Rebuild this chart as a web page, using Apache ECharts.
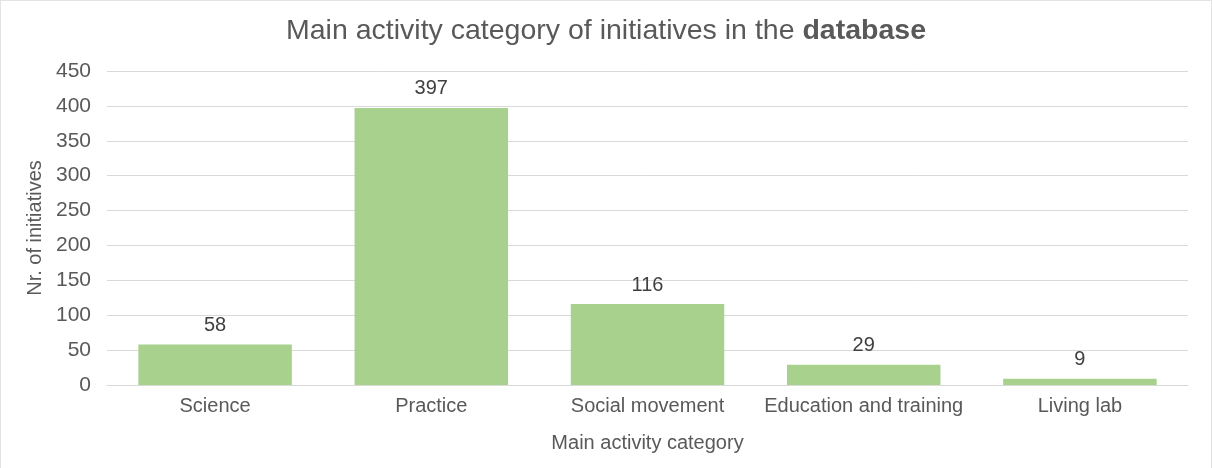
<!DOCTYPE html>
<html>
<head>
<meta charset="utf-8">
<script src="https://cdn.jsdelivr.net/npm/echarts@6/dist/echarts.min.js"></script>
<style>
html,body{margin:0;padding:0;background:#fff;}
#c{width:1212px;height:468px;box-sizing:border-box;border:1px solid #e3e3e3;border-bottom:none;}
</style>
</head>
<body>
<div id="c"></div>
<script>
const categories = ["Science", "Practice", "Social movement", "Education and training", "Living lab"];
const values = [58, 397, 116, 29, 9];
const yTicks = [0, 50, 100, 150, 200, 250, 300, 350, 400, 450];

const chart = echarts.init(document.getElementById('c'), null, {renderer: 'canvas'});
const font = '"Liberation Sans", Arial, Helvetica, sans-serif';
chart.setOption({
  animation: false,
  textStyle: {fontFamily: font},
  title: {
    text: '{n|Main activity category of initiatives in the }{b|database}',
    left: 'center',
    top: 11,
    textStyle: {
      fontWeight: 'normal',
      rich: {
        n: {fontSize: 28.5, color: '#595959', fontWeight: 'normal', fontFamily: font},
        b: {fontSize: 28.5, color: '#595959', fontWeight: 'bold', fontFamily: font}
      }
    }
  },
  grid: {left: 106, right: 23, top: 70, bottom: 83},
  xAxis: {
    type: 'category',
    data: categories,
    axisLine: {lineStyle: {color: '#d9d9d9', width: 1}},
    axisTick: {show: false},
    axisLabel: {color: '#595959', fontSize: 20, margin: 11, interval: 0, fontFamily: font},
    name: 'Main activity category',
    nameLocation: 'middle',
    nameGap: 48,
    nameTextStyle: {color: '#595959', fontSize: 20, fontFamily: font}
  },
  yAxis: {
    type: 'value',
    min: yTicks[0],
    max: yTicks[yTicks.length - 1],
    interval: 50,
    axisLine: {show: false},
    axisTick: {show: false},
    splitLine: {lineStyle: {color: '#d9d9d9', width: 1}},
    axisLabel: {color: '#595959', fontSize: 21, margin: 16, fontFamily: font},
    name: 'Nr. of initiatives',
    nameLocation: 'middle',
    nameGap: 59,
    nameRotate: 90,
    nameTextStyle: {color: '#595959', fontSize: 20, fontFamily: font}
  },
  series: [{
    type: 'bar',
    data: values,
    barCategoryGap: '29%',
    itemStyle: {color: '#a9d18e'},
    label: {
      show: true,
      position: 'top',
      distance: 9,
      color: '#404040',
      fontSize: 20,
      fontFamily: font
    }
  }]
});
</script>
</body>
</html>
